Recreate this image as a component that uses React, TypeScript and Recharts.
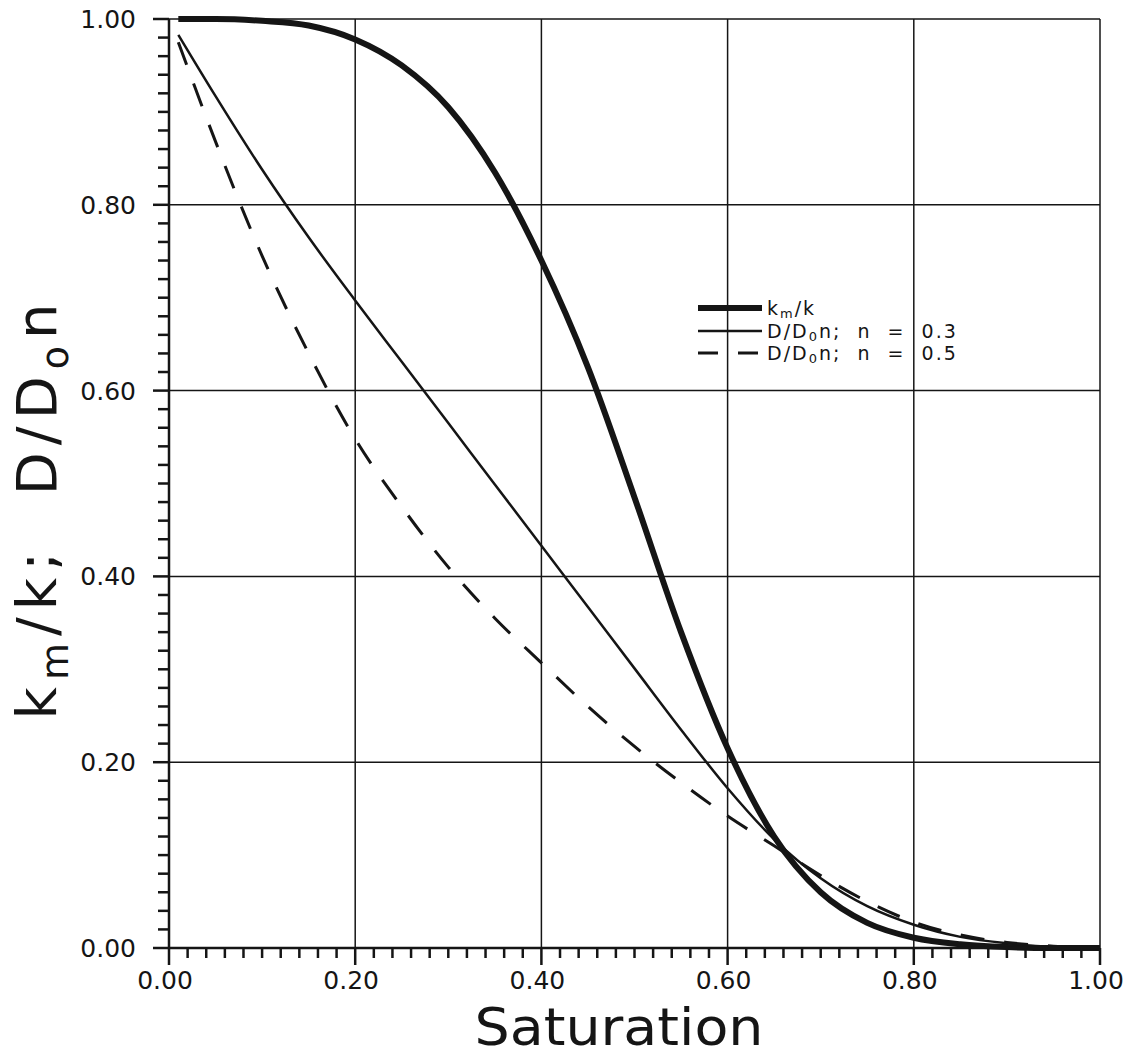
import React from "react";
import { LineChart, Line, XAxis, YAxis, ReferenceLine } from "recharts";

// values
const saturation = [
  0.01, 0.05, 0.1, 0.15, 0.2, 0.25, 0.3, 0.35, 0.4, 0.45, 0.5, 0.55, 0.6,
  0.65, 0.7, 0.75, 0.8, 0.85, 0.9, 0.95, 1.0,
];
const kmK = [
  1.0, 1.0, 0.998, 0.993, 0.978, 0.95, 0.905, 0.835, 0.74, 0.625, 0.485, 0.34,
  0.215, 0.12, 0.06, 0.027, 0.011, 0.004, 0.001, 0.0, 0.0,
];
const dN03 = [
  0.983, 0.917, 0.838, 0.765, 0.697, 0.631, 0.565, 0.499, 0.433, 0.367, 0.301,
  0.235, 0.172, 0.117, 0.075, 0.045, 0.025, 0.012, 0.005, 0.001, 0.0,
];
const dN05 = [
  0.975, 0.868, 0.745, 0.64, 0.548, 0.475, 0.41, 0.355, 0.307, 0.26, 0.217,
  0.178, 0.142, 0.11, 0.078, 0.05, 0.028, 0.014, 0.006, 0.002, 0.0,
];

const majorTicks = [0, 0.2, 0.4, 0.6, 0.8, 1.0];
const minorTicks = Array.from({ length: 51 }, (_, i) => (i * 2) / 100);

const data = saturation.map((s, i) => ({
  s,
  kmK: kmK[i],
  dN03: dN03[i],
  dN05: dN05[i],
}));

const INK = "#151515";
const FONT = "'DejaVu Sans', sans-serif";

const isMajor = (v: number) => Math.abs(v * 5 - Math.round(v * 5)) < 1e-6;

function XTick(props: any) {
  const { x, y, payload } = props;
  const major = isMajor(payload.value);
  return (
    <g>
      <line x1={x} x2={x} y1={y} y2={y + (major ? 17 : 10)} stroke={INK} strokeWidth={2.5} />
      {major && (
        <text x={x - 4} y={y + 41} textAnchor="middle" fontSize={25} fill={INK} fontFamily={FONT}>
          {payload.value.toFixed(2)}
        </text>
      )}
    </g>
  );
}

function YTick(props: any) {
  const { x, y, payload } = props;
  const major = isMajor(payload.value);
  return (
    <g>
      <line x1={x - (major ? 16 : 11)} x2={x} y1={y} y2={y} stroke={INK} strokeWidth={2.5} />
      {major && (
        <text x={x - 33} y={y + 9} textAnchor="end" fontSize={25} fill={INK} fontFamily={FONT}>
          {payload.value.toFixed(2)}
        </text>
      )}
    </g>
  );
}

function YLabel() {
  const cx = 56;
  const cy = 508;
  return (
    <text
      x={cx}
      y={cy}
      transform={`rotate(-90, ${cx}, ${cy})`}
      textAnchor="middle"
      fontSize={56}
      letterSpacing={7}
      fill={INK}
      fontFamily={FONT}
      style={{ whiteSpace: "pre" }}
    >
      k<tspan fontSize={38} dy={12}>m</tspan>
      <tspan dy={-12}>/k;  D/D</tspan>
      <tspan fontSize={38} dy={12}>o</tspan>
      <tspan dy={-12}>n</tspan>
    </text>
  );
}

function XLabel() {
  return (
    <text
      x={619}
      y={1045}
      textAnchor="middle"
      fontSize={52}
      textLength={289}
      lengthAdjust="spacingAndGlyphs"
      fill={INK}
      fontFamily={FONT}
    >
      Saturation
    </text>
  );
}

const legendRows = [
  { key: "kmK", width: 6, dash: undefined as string | undefined, main: "k", sub: "m", rest: "/k" },
  { key: "dN03", width: 2.5, dash: undefined, main: "D/D", sub: "0", rest: "n;  n  =  0.3" },
  { key: "dN05", width: 3, dash: "20 20", main: "D/D", sub: "0", rest: "n;  n  =  0.5" },
];

function LegendBox() {
  return (
    <div
      style={{
        position: "absolute",
        left: 697,
        top: 297,
        fontFamily: FONT,
        color: INK,
        fontSize: 19,
      }}
    >
      {legendRows.map((r) => (
        <div key={r.key} style={{ display: "flex", alignItems: "center", height: 22.5 }}>
          <svg width={66} height={22} style={{ display: "block" }}>
            <line x1={1} x2={65} y1={11} y2={11} stroke={INK} strokeWidth={r.width} strokeDasharray={r.dash} />
          </svg>
          <span style={{ marginLeft: 4, whiteSpace: "pre", letterSpacing: 2, lineHeight: "18px" }}>
            {r.main}
            <sub style={{ fontSize: 13, lineHeight: 0, verticalAlign: "-3px" }}>{r.sub}</sub>
            {r.rest}
          </span>
        </div>
      ))}
    </div>
  );
}

export default function App() {
  return (
    <div style={{ position: "absolute", left: 0, top: 0, width: 1130, height: 1056, background: "#fff" }}>
      <LineChart
        width={1130}
        height={1056}
        data={data}
        margin={{ top: 19, right: 30, left: 109, bottom: 48 }}
      >
        {majorTicks.slice(1).map((t) => (
          <ReferenceLine key={`vx${t}`} x={t} stroke={INK} strokeWidth={1.5} />
        ))}
        {majorTicks.slice(1).map((t) => (
          <ReferenceLine key={`hy${t}`} y={t} stroke={INK} strokeWidth={1.5} />
        ))}
        <XAxis
          dataKey="s"
          type="number"
          domain={[0, 1]}
          ticks={minorTicks}
          interval={0}
          height={60}
          tickSize={0}
          tickMargin={0}
          tickLine={false}
          axisLine={{ stroke: INK, strokeWidth: 2.5 }}
          tick={<XTick />}
          label={<XLabel />}
        />
        <YAxis
          type="number"
          domain={[0, 1]}
          ticks={minorTicks}
          interval={0}
          width={60}
          tickSize={0}
          tickMargin={0}
          tickLine={false}
          axisLine={{ stroke: INK, strokeWidth: 2.5 }}
          tick={<YTick />}
          label={<YLabel />}
        />
        <Line dataKey="kmK" type="monotone" stroke={INK} strokeWidth={6} dot={false} isAnimationActive={false} />
        <Line dataKey="dN03" type="monotone" stroke={INK} strokeWidth={2.5} dot={false} isAnimationActive={false} />
        <Line
          dataKey="dN05"
          type="monotone"
          stroke={INK}
          strokeWidth={3}
          strokeDasharray="24 20"
          dot={false}
          isAnimationActive={false}
        />
      </LineChart>
      <LegendBox />
    </div>
  );
}
